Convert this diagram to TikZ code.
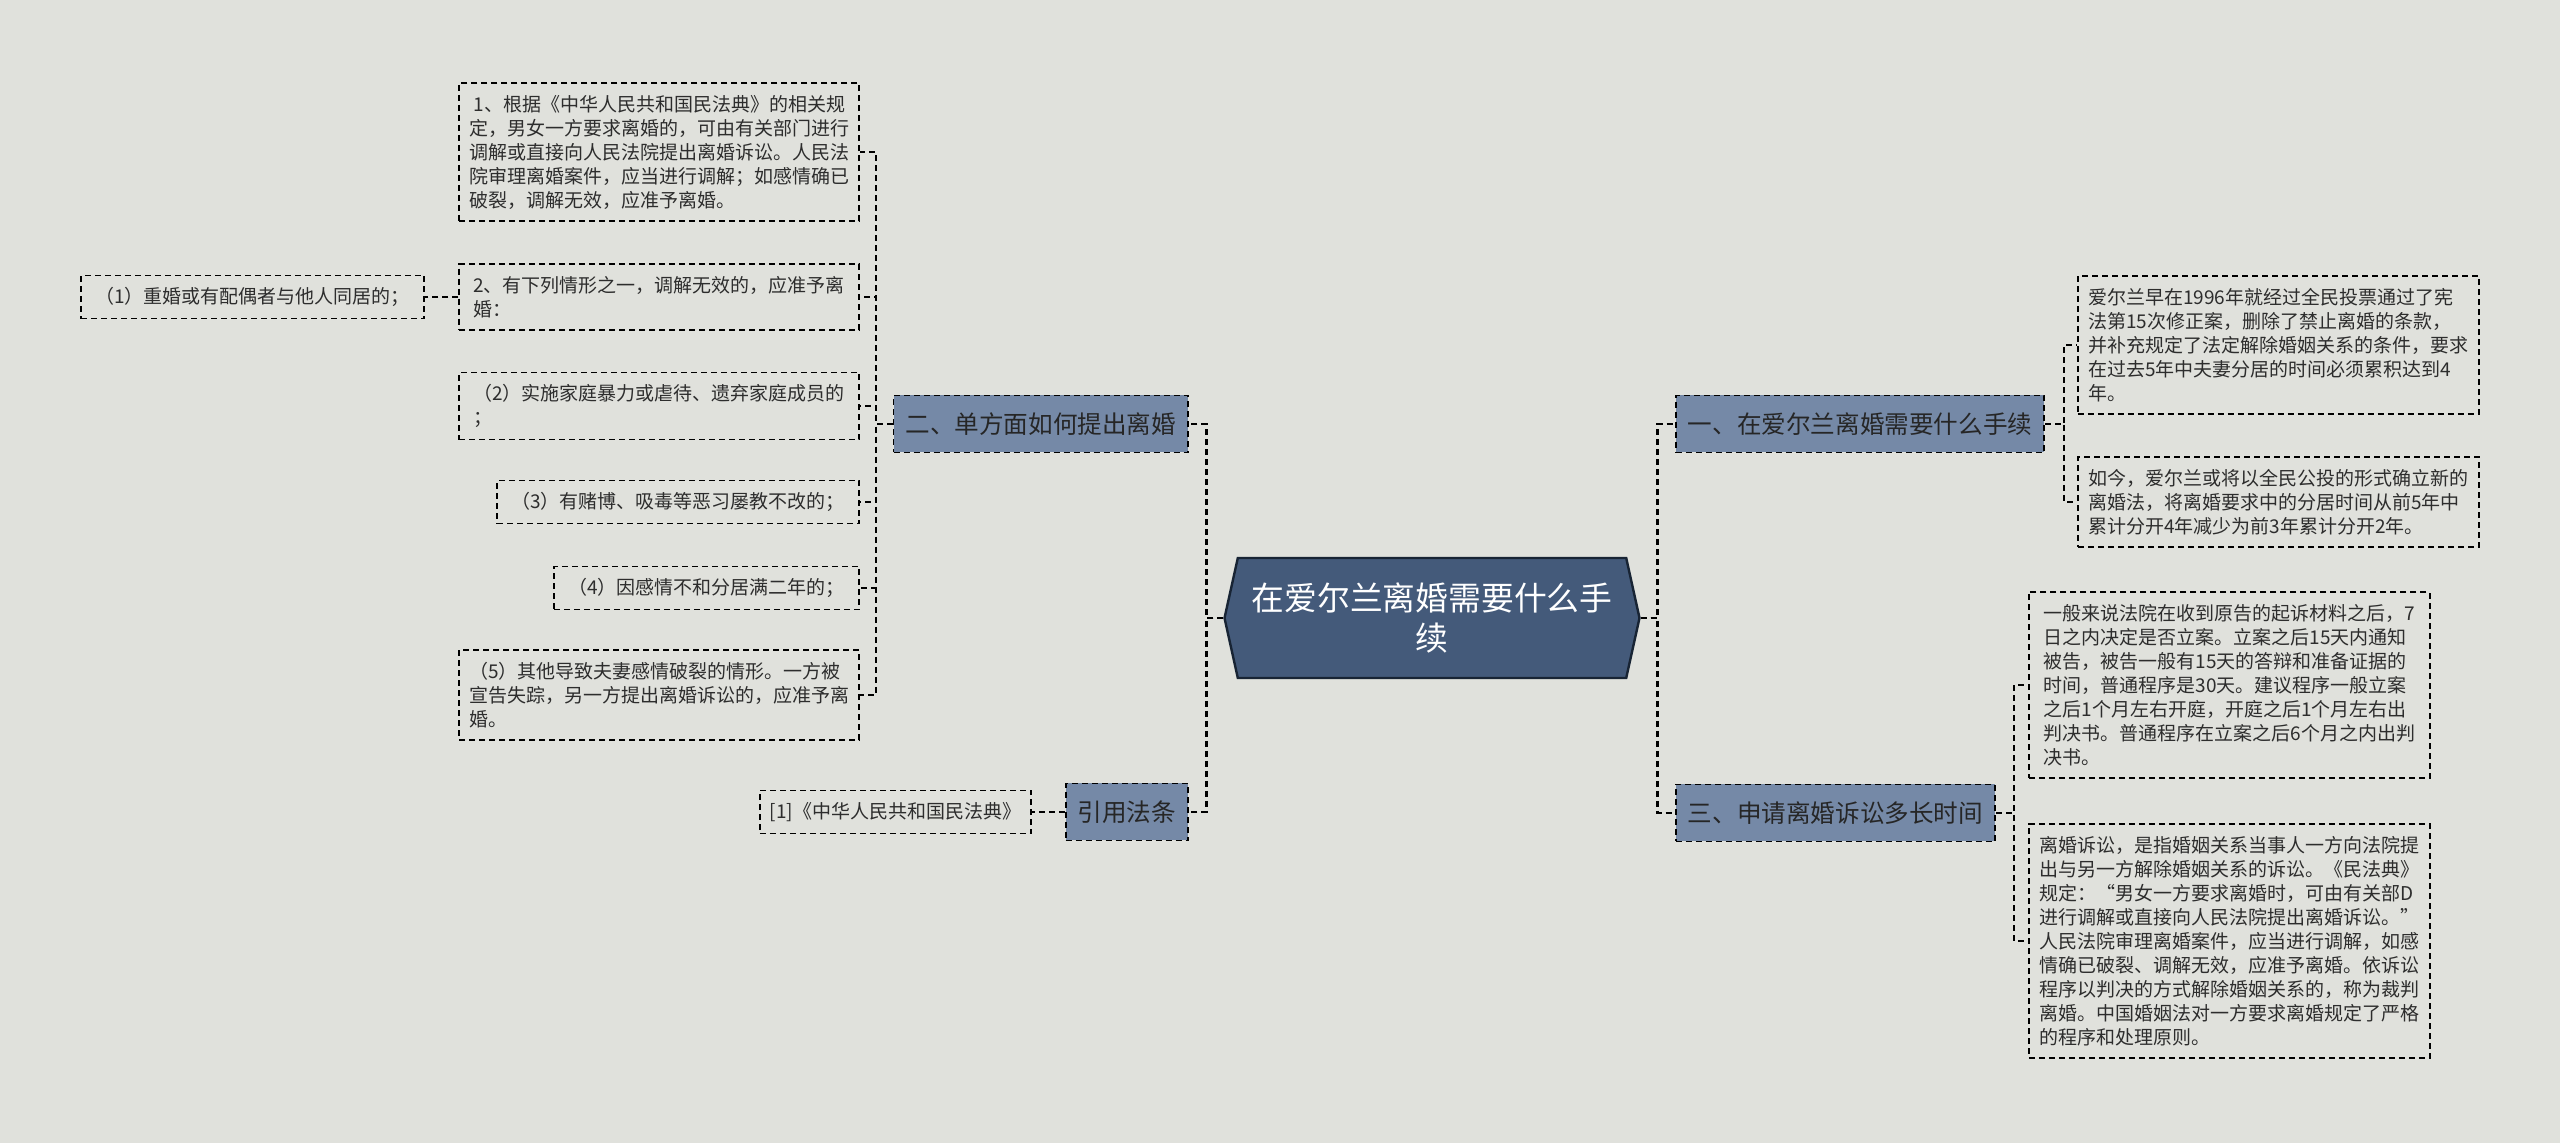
\documentclass[tikz,border=0pt]{standalone}
\usepackage{fontspec}
\setmainfont{Noto Sans CJK SC}
\usetikzlibrary{shapes.symbols}
\definecolor{mapbg}{RGB}{224,225,220}
\definecolor{mapnavy}{RGB}{68,90,122}
\definecolor{mapedge}{RGB}{24,36,52}
\definecolor{mapslate}{RGB}{117,137,167}
\definecolor{maptext}{RGB}{45,45,45}
\tikzset{
  leafbox/.style={draw=black, dash pattern=on 3pt off 2pt, line width=0.8pt, inner xsep=5pt, inner ysep=6pt,
    align=left, text=maptext, font=\fontsize{9.5pt}{12pt}\selectfont},
  topicbox/.style={draw=black, dash pattern=on 3pt off 2pt, line width=0.9pt, fill=mapslate, inner xsep=6pt,
    minimum height=28.5pt, text=black!85, font=\fontsize{12.3pt}{15pt}\selectfont},
  rootbox/.style={signal, signal to=west and east, signal pointer angle=155, draw=mapedge, line width=1.2pt,
    fill=mapnavy, minimum width=207.5pt, minimum height=60pt, text=white, align=center,
    font=\fontsize{16.4pt}{20pt}\selectfont},
  trunk/.style={draw=black, dash pattern=on 3pt off 2pt, line width=1.3pt},
  twig/.style={draw=black, dash pattern=on 3pt off 2pt, line width=1pt}
}
\begin{document}
\begin{tikzpicture}[x=0.5pt, y=-0.5pt]
  \fill[mapbg] (0,0) rectangle (2560,1143);
  \useasboundingbox (0,0) rectangle (2560,1143);
  \node[rootbox] (root) at (1432,618) {在爱尔兰离婚需要什么手\\续};
  \node[topicbox, anchor=east] (unilateral) at (1189,424) {二、单方面如何提出离婚};
  \node[topicbox, anchor=east] (statute) at (1189,812) {引用法条};
  \node[topicbox, anchor=west] (procedure) at (1675,424) {一、在爱尔兰离婚需要什么手续};
  \node[topicbox, anchor=west] (duration) at (1675,813) {三、申请离婚诉讼多长时间};
  \node[leafbox, anchor=east] (lawbasis) at (860,152) {\ 1、根据《中华人民共和国民法典》的相关规\\定，男女一方要求离婚的，可由有关部门进行\\调解或直接向人民法院提出离婚诉讼。人民法\\院审理离婚案件，应当进行调解；如感情确已\\破裂，调解无效，应准予离婚。};
  \node[leafbox, anchor=east, minimum width=200pt] (grounds) at (860,297) {2、有下列情形之一，调解无效的，应准予离\\婚：};
  \node[leafbox, anchor=east, minimum width=171.5pt] (bigamy) at (425,297) {（1）重婚或有配偶者与他人同居的；};
  \node[leafbox, anchor=east, minimum width=200pt] (abuse) at (860,406) {（2）实施家庭暴力或虐待、遗弃家庭成员的\\；};
  \node[leafbox, anchor=east, minimum width=181pt] (gambling) at (860,502) {（3）有赌博、吸毒等恶习屡教不改的；};
  \node[leafbox, anchor=east, minimum width=152.5pt] (separated) at (860,588) {（4）因感情不和分居满二年的；};
  \node[leafbox, anchor=east, minimum width=200pt] (missing) at (860,695) {（5）其他导致夫妻感情破裂的情形。一方被\\宣告失踪，另一方提出离婚诉讼的，应准予离\\婚。};
  \node[leafbox, anchor=east] (civilcode) at (1032,812) {[1]《中华人民共和国民法典》};
  \node[leafbox, anchor=west, minimum width=200.5pt] (referendum) at (2077,345) {爱尔兰早在1996年就经过全民投票通过了宪\\法第15次修正案，删除了禁止离婚的条款，\\并补充规定了法定解除婚姻关系的条件，要求\\在过去5年中夫妻分居的时间必须累积达到4\\年。};
  \node[leafbox, anchor=west, minimum width=200.5pt] (newlaw) at (2077,502) {如今，爱尔兰或将以全民公投的形式确立新的\\离婚法，将离婚要求中的分居时间从前5年中\\累计分开4年减少为前3年累计分开2年。};
  \node[leafbox, anchor=west, minimum width=200.5pt] (timeline) at (2028,685) {一般来说法院在收到原告的起诉材料之后，7\\日之内决定是否立案。立案之后15天内通知\\被告，被告一般有15天的答辩和准备证据的\\时间，普通程序是30天。建议程序一般立案\\之后1个月左右开庭，开庭之后1个月左右出\\判决书。普通程序在立案之后6个月之内出判\\决书。};
  \node[leafbox, anchor=west, minimum width=200.5pt] (lawsuit) at (2028,941) {离婚诉讼，是指婚姻关系当事人一方向法院提\\出与另一方解除婚姻关系的诉讼。《民法典》\\规定：“男女一方要求离婚时，可由有关部D\\进行调解或直接向人民法院提出离婚诉讼。”\\人民法院审理离婚案件，应当进行调解，如感\\情确已破裂、调解无效，应准予离婚。依诉讼\\程序以判决的方式解除婚姻关系的，称为裁判\\离婚。中国婚姻法对一方要求离婚规定了严格\\的程序和处理原则。};
  \draw[trunk] (root.west) -- ++(-17,0) |- (unilateral.east);
  \draw[trunk] (root.west) -- ++(-17,0) |- (statute.east);
  \draw[trunk] (root.east) -- ++(17,0) |- (procedure.west);
  \draw[trunk] (root.east) -- ++(17,0) |- (duration.west);
  \draw[twig] (unilateral.west) -- ++(-17,0) |- (lawbasis.east);
  \draw[twig] (unilateral.west) -- ++(-17,0) |- (grounds.east);
  \draw[twig] (unilateral.west) -- ++(-17,0) |- (abuse.east);
  \draw[twig] (unilateral.west) -- ++(-17,0) |- (gambling.east);
  \draw[twig] (unilateral.west) -- ++(-17,0) |- (separated.east);
  \draw[twig] (unilateral.west) -- ++(-17,0) |- (missing.east);
  \draw[twig] (grounds.west) -- (bigamy.east);
  \draw[twig] (statute.west) -- (civilcode.east);
  \draw[twig] (procedure.east) -- ++(19,0) |- (referendum.west);
  \draw[twig] (procedure.east) -- ++(19,0) |- (newlaw.west);
  \draw[twig] (duration.east) -- ++(18,0) |- (timeline.west);
  \draw[twig] (duration.east) -- ++(18,0) |- (lawsuit.west);
\end{tikzpicture}
\end{document}
